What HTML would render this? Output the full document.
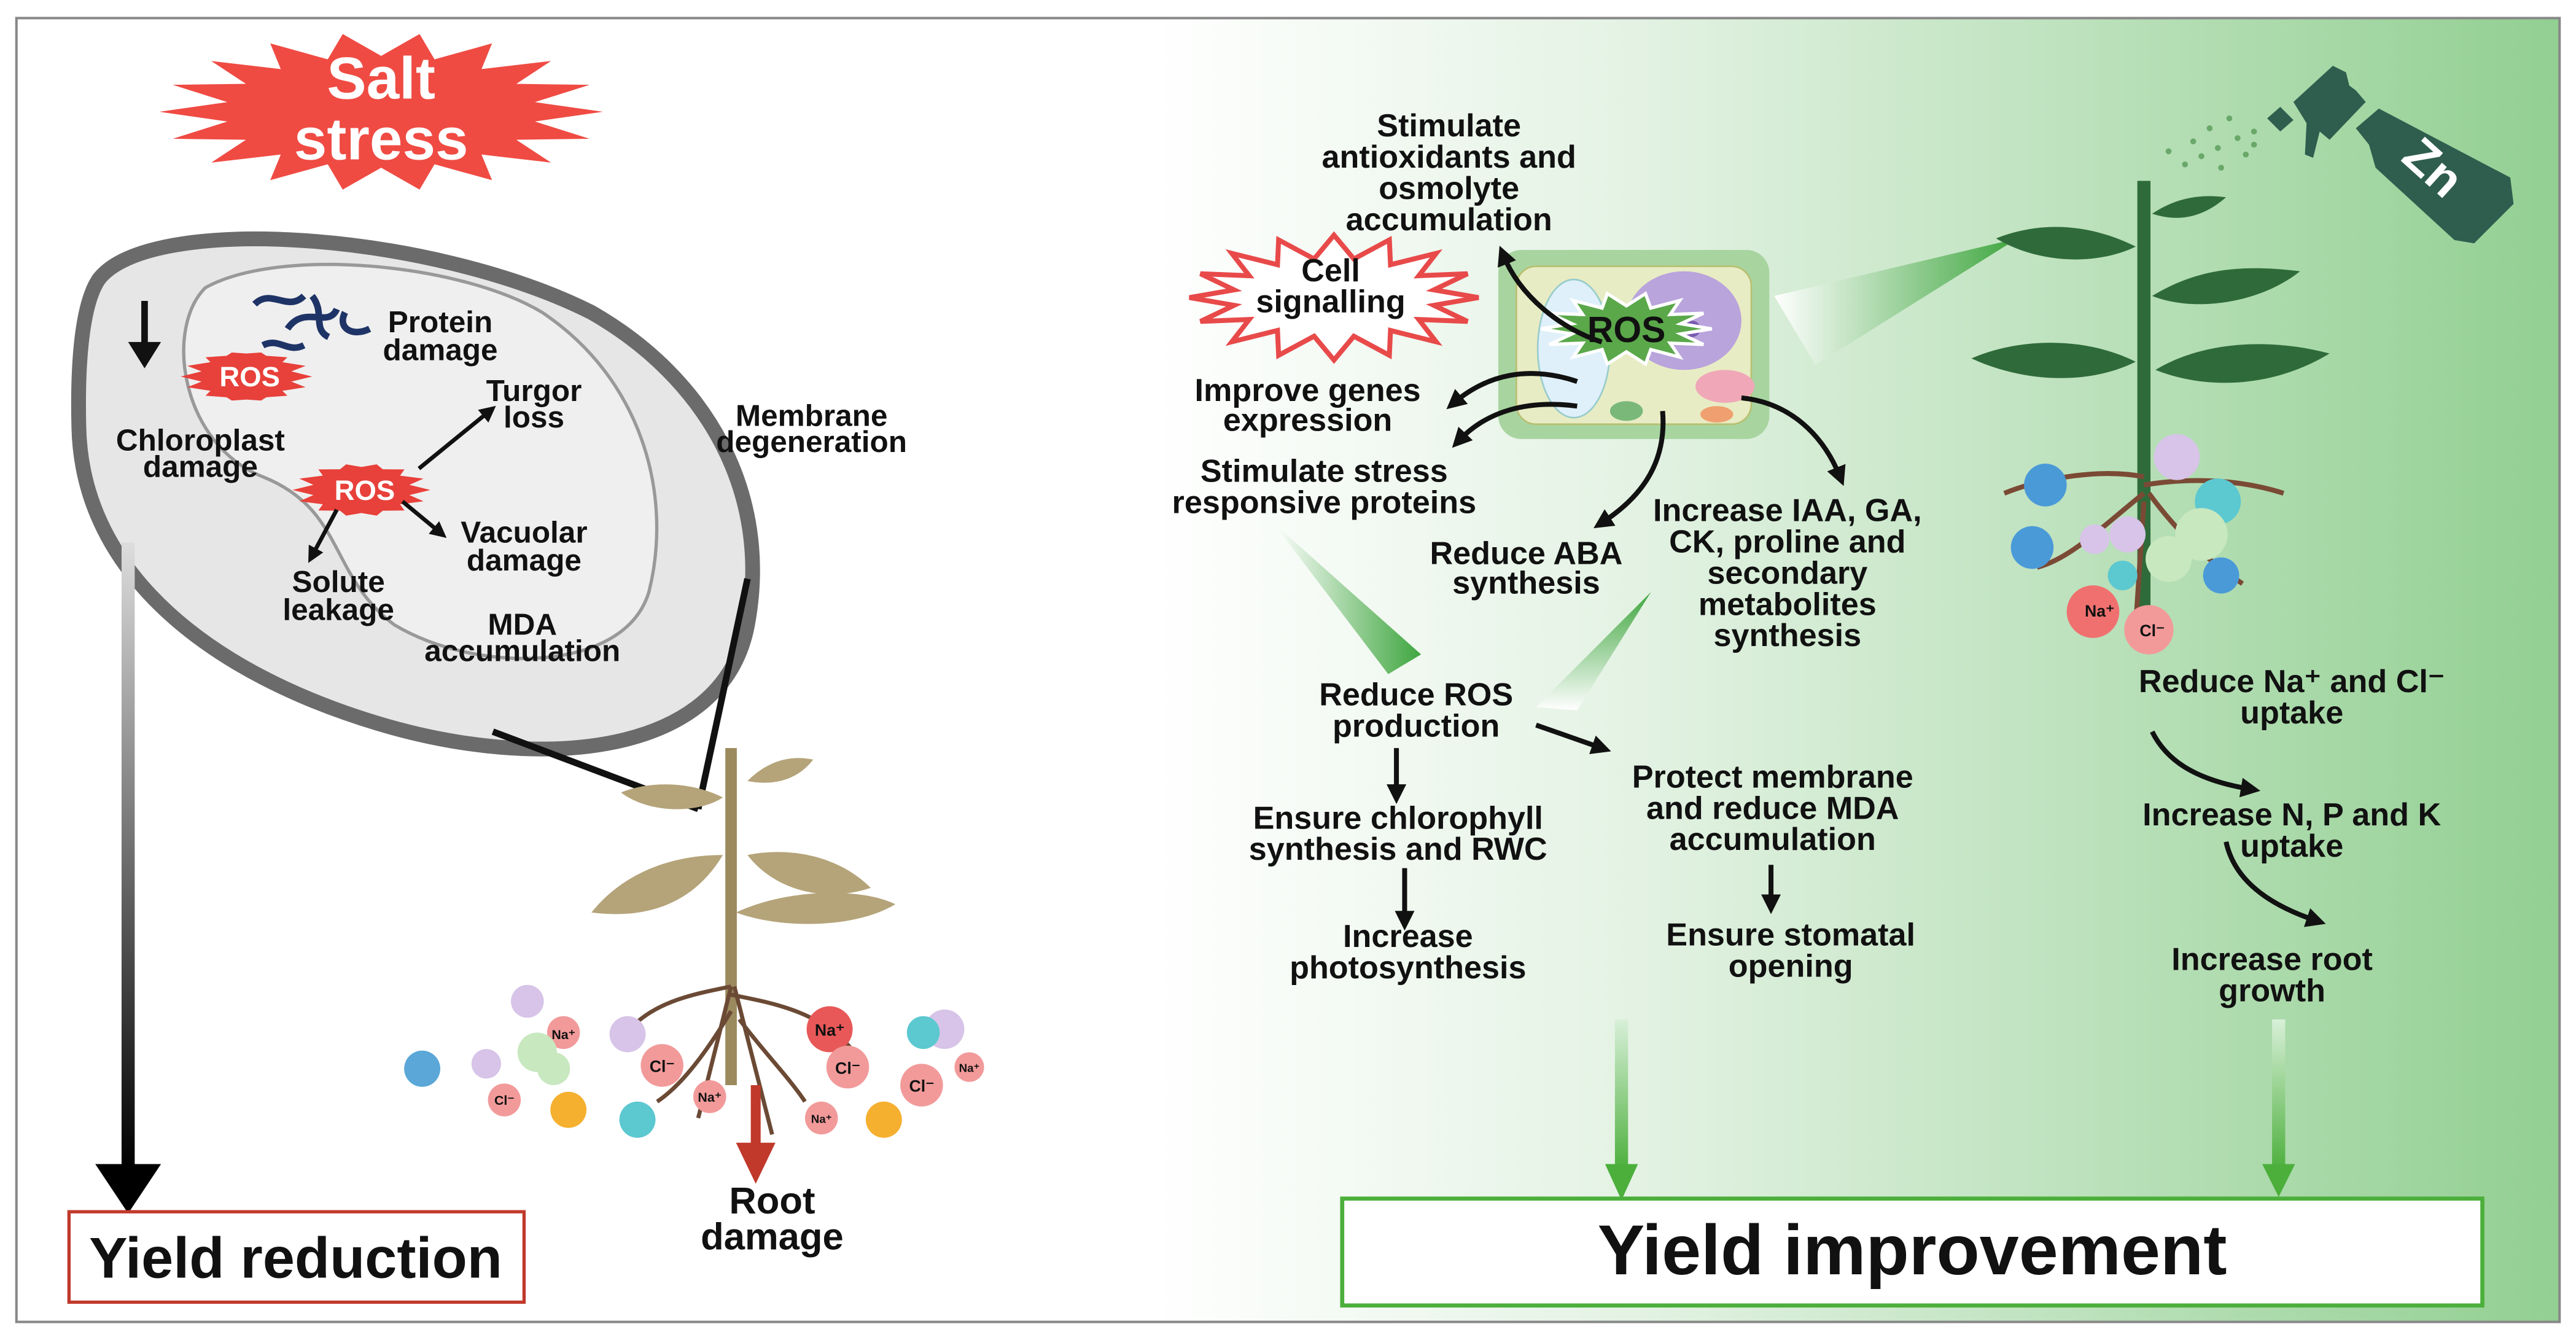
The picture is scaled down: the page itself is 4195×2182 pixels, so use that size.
<!DOCTYPE html>
<html><head><meta charset="utf-8"><style>
html,body{margin:0;padding:0;background:#fff}
svg{display:block}
text{font-family:"Liberation Sans",sans-serif;font-weight:bold;fill:#111}
</style></head><body>
<svg id="s" width="4195" height="2182" viewBox="0 0 1568 815" preserveAspectRatio="none" xmlns="http://www.w3.org/2000/svg">
<defs>
<linearGradient id="bg" x1="0" x2="1" y1="0" y2="0">
<stop offset="0" stop-color="#ffffff"/><stop offset="0.35" stop-color="#e3f2e3"/><stop offset="1" stop-color="#92cf92"/></linearGradient>
<linearGradient id="la" x1="0" x2="0" y1="0" y2="1"><stop offset="0" stop-color="#ddd"/><stop offset="1" stop-color="#000"/></linearGradient>
<linearGradient id="ga" x1="0" x2="0" y1="0" y2="1"><stop offset="0" stop-color="#d8f0d8"/><stop offset="1" stop-color="#4caf3c"/></linearGradient>
<linearGradient id="tri" x1="0" x2="1" y1="0" y2="0"><stop offset="0" stop-color="#fff"/><stop offset="1" stop-color="#3fa63f"/></linearGradient>
<linearGradient id="tri2" x1="0" x2="0" y1="1" y2="0"><stop offset="0" stop-color="#fff"/><stop offset="1" stop-color="#3fa63f"/></linearGradient>
<marker id="ah" viewBox="0 0 10 10" refX="5" refY="5" markerWidth="4" markerHeight="4" orient="auto"><path d="M0,0L10,5L0,10z" fill="#111"/></marker>
</defs>
<rect x="0" y="0" width="1568" height="815" fill="#fff"/>
<rect x="700" y="11" width="858" height="793" fill="url(#bg)"/>
<rect x="10" y="11" width="1548" height="793" fill="none" stroke="#888" stroke-width="1.5"/>

<!-- Left cell -->
<path d="M60,170 C90,130 260,140 360,190 C430,230 470,300 455,380 C440,460 330,470 230,440 C130,410 50,350 48,260 C47,220 50,185 60,170z" fill="#e6e6e6" stroke="#6b6b6b" stroke-width="9"/>
<path d="M125,175 C170,150 280,160 330,190 C390,230 410,300 395,360 C380,410 290,410 240,380 C200,350 210,310 160,290 C110,270 100,200 125,175z" fill="#efefef" stroke="#999" stroke-width="2"/>
<line x1="300" y1="445" x2="425" y2="492" stroke="#111" stroke-width="4"/>
<line x1="455" y1="352" x2="425" y2="492" stroke="#111" stroke-width="4"/>
<path d="M155,185c10,-10 20,5 30,-5M175,200c10,-15 25,0 30,-12M190,180c8,10 0,20 10,25M210,190c-5,10 5,15 15,10M160,210c10,-5 15,5 25,0" stroke="#1f3466" stroke-width="4" fill="none"/>
<g font-size="18.5" text-anchor="middle">
<text x="268" y="202">Protein</text><text x="268" y="219">damage</text>
<text x="325" y="244">Turgor</text><text x="325" y="260">loss</text>
<text x="122" y="274">Chloroplast</text><text x="122" y="290">damage</text>
<text x="494" y="259">Membrane</text><text x="494" y="275">degeneration</text>
<text x="319" y="330">Vacuolar</text><text x="319" y="347">damage</text>
<text x="206" y="360">Solute</text><text x="206" y="377">leakage</text>
<text x="318" y="386">MDA</text><text x="318" y="402">accumulation</text>
</g>
<path d="M88,183V212" stroke="#111" stroke-width="4"/><path d="M78,208L88,224L98,208z" fill="#111"/>
<polygon class="star" data-c="150,229,40,15,28,14" fill="#e8403a"/>
<text x="152" y="235" font-size="17" text-anchor="middle" style="fill:#fff">ROS</text>
<polygon class="star" data-c="220,298,42,16,30,14" fill="#e8403a"/>
<text x="222" y="304" font-size="17" text-anchor="middle" style="fill:#fff">ROS</text>
<line x1="255" y1="285" x2="298" y2="250" stroke="#111" stroke-width="2.5" marker-end="url(#ah)"/>
<line x1="245" y1="305" x2="268" y2="324" stroke="#111" stroke-width="2.5" marker-end="url(#ah)"/>
<line x1="205" y1="310" x2="190" y2="338" stroke="#111" stroke-width="2.5" marker-end="url(#ah)"/>

<!-- Salt stress -->
<polygon class="star" data-c="232,68,135,48,95,34,18" fill="#ef4b43"/>
<text x="232" y="60" font-size="36" text-anchor="middle" style="fill:#fff">Salt</text>
<text x="232" y="97" font-size="36" text-anchor="middle" style="fill:#fff">stress</text>

<!-- left long arrow -->
<rect x="74" y="330" width="8" height="380" fill="url(#la)"/>
<path d="M58,708L78,738L98,708z" fill="#000"/>
<rect x="42" y="737" width="277" height="55" fill="#fff" stroke="#c0392b" stroke-width="2"/>
<text x="180" y="777" font-size="35" text-anchor="middle">Yield reduction</text>

<!-- left plant -->
<path d="M445,455V660" stroke="#9b8a5e" stroke-width="7"/>
<path d="M440,520C410,520 380,530 360,555C400,560 425,545 440,520z" fill="#b5a47a"/>
<path d="M455,520C480,515 510,520 530,540C500,550 470,540 455,520z" fill="#b5a47a"/>
<path d="M448,555C480,540 525,540 545,550C520,565 475,565 448,555z" fill="#b5a47a"/>
<path d="M440,485C420,475 395,475 378,482C395,495 425,495 440,485z" fill="#b5a47a"/>
<path d="M455,475C470,460 485,460 495,462C485,475 470,478 455,475z" fill="#b5a47a"/>
<path d="M445,600C420,605 395,610 380,630M445,605C470,610 500,615 520,640M445,615C430,640 415,660 400,670M450,620C465,640 480,655 490,670M445,600L425,680M447,600L470,690" stroke="#6b4a35" stroke-width="2.5" fill="none"/>
<rect x="457" y="660" width="6" height="40" fill="#c0392b"/><path d="M448,695L460,720L472,695z" fill="#c0392b"/>
<text x="470" y="738" font-size="23" text-anchor="middle">Root</text><text x="470" y="760" font-size="23" text-anchor="middle">damage</text>
<g>
<circle cx="321" cy="609" r="10" fill="#d7c4e8"/><circle cx="343" cy="628" r="10" fill="#f29a9a"/><circle cx="382" cy="629" r="11" fill="#d7c4e8"/>
<circle cx="257" cy="650" r="11" fill="#5aa7d8"/><circle cx="296" cy="647" r="9" fill="#d7c4e8"/><circle cx="327" cy="640" r="12" fill="#c8e8c0"/><circle cx="337" cy="650" r="10" fill="#c8e8c0"/>
<circle cx="403" cy="648" r="13" fill="#f29a9a"/><circle cx="307" cy="669" r="10" fill="#f29a9a"/><circle cx="346" cy="675" r="11" fill="#f5b030"/>
<circle cx="388" cy="681" r="11" fill="#5cc8d0"/><circle cx="432" cy="667" r="10" fill="#f29a9a"/><circle cx="505" cy="626" r="14" fill="#e85858"/><circle cx="516" cy="649" r="13" fill="#f29a9a"/>
<circle cx="561" cy="660" r="13" fill="#f29a9a"/><circle cx="590" cy="649" r="9" fill="#f29a9a"/><circle cx="575" cy="626" r="12" fill="#d7c4e8"/><circle cx="562" cy="628" r="10" fill="#5cc8d0"/>
<circle cx="500" cy="680" r="10" fill="#f29a9a"/><circle cx="538" cy="681" r="11" fill="#f5b030"/>
<text x="343" y="632" font-size="8" text-anchor="middle">Na⁺</text><text x="403" y="652" font-size="10" text-anchor="middle">Cl⁻</text><text x="505" y="630" font-size="10" text-anchor="middle">Na⁺</text><text x="516" y="653" font-size="10" text-anchor="middle">Cl⁻</text><text x="561" y="664" font-size="10" text-anchor="middle">Cl⁻</text><text x="307" y="672" font-size="8" text-anchor="middle">Cl⁻</text><text x="432" y="670" font-size="8" text-anchor="middle">Na⁺</text><text x="590" y="652" font-size="7" text-anchor="middle">Na⁺</text><text x="500" y="683" font-size="7" text-anchor="middle">Na⁺</text>
</g>

<!-- Right: plant cell -->
<rect x="912" y="152" width="165" height="115" rx="14" fill="#a8d4a0"/>
<rect x="923" y="162" width="143" height="96" rx="12" fill="#e8ecc4" stroke="#b8c070"/>
<ellipse cx="958" cy="212" rx="22" ry="42" fill="#dff0fa" stroke="#9cc"/>
<ellipse cx="1025" cy="195" rx="35" ry="30" fill="#b9a4dc"/>
<circle cx="1030" cy="200" r="5" fill="#7a5cb0"/>
<ellipse cx="1050" cy="235" rx="18" ry="10" fill="#f0a8b8"/>
<ellipse cx="990" cy="250" rx="10" ry="6" fill="#7ab87a"/>
<ellipse cx="1045" cy="252" rx="10" ry="5" fill="#f0a070"/>
<polygon class="star" data-c="990,200,52,22,34,14" fill="#5aa84a" stroke="#fff" stroke-width="2"/>
<text x="990" y="208" font-size="22" text-anchor="middle">ROS</text>
<polygon class="star" data-c="812,181,88,38,62,24,16" fill="#fff" stroke="#e84a4a" stroke-width="3"/>
<text x="810" y="171" font-size="19.5" text-anchor="middle">Cell</text><text x="810" y="190" font-size="19.5" text-anchor="middle">signalling</text>

<g stroke="#111" stroke-width="3" fill="none" marker-end="url(#ah)">
<path d="M975,208C950,200 925,180 915,155"/>
<path d="M960,232C930,222 905,228 885,245"/>
<path d="M960,247C930,243 905,250 888,268"/>
<path d="M1012,250C1015,285 995,305 975,318"/>
<path d="M1060,242C1090,245 1110,265 1120,290"/>
<path d="M850,455V483"/>
<path d="M855,528V560"/>
<path d="M935,441L975,455"/>
<path d="M1078,526V550"/>
<path d="M1310,445C1320,465 1340,475 1370,480"/>
<path d="M1355,512C1360,535 1380,550 1410,560"/>
</g>
<polygon points="775,318 865,398 845,410" fill="url(#tri)"/>
<polygon points="1005,360 935,430 960,432" fill="url(#tri2)"/>
<polygon points="1228,145 1080,180 1105,222" fill="url(#tri)"/>

<g font-size="19.5" text-anchor="middle">
<text x="882" y="83">Stimulate</text><text x="882" y="102">antioxidants and</text><text x="882" y="121">osmolyte</text><text x="882" y="140">accumulation</text>
<text x="796" y="244">Improve genes</text><text x="796" y="262">expression</text>
<text x="806" y="293">Stimulate stress</text><text x="806" y="312">responsive proteins</text>
<text x="929" y="343">Reduce ABA</text><text x="929" y="361">synthesis</text>
<text x="1088" y="317">Increase IAA, GA,</text><text x="1088" y="336">CK, proline and</text><text x="1088" y="355">secondary</text><text x="1088" y="374">metabolites</text><text x="1088" y="393">synthesis</text>
<text x="862" y="429">Reduce ROS</text><text x="862" y="448">production</text>
<text x="1079" y="479">Protect membrane</text><text x="1079" y="498">and reduce MDA</text><text x="1079" y="517">accumulation</text>
<text x="851" y="504">Ensure chlorophyll</text><text x="851" y="523">synthesis and RWC</text>
<text x="857" y="576">Increase</text><text x="857" y="595">photosynthesis</text>
<text x="1090" y="575">Ensure stomatal</text><text x="1090" y="594">opening</text>
<text x="1395" y="421">Reduce Na⁺ and Cl⁻</text><text x="1395" y="440">uptake</text>
<text x="1395" y="502">Increase N, P and K</text><text x="1395" y="521">uptake</text>
<text x="1383" y="590">Increase root</text><text x="1383" y="609">growth</text>
</g>

<!-- right plant -->
<path d="M1305,110V390" stroke="#2f6b3a" stroke-width="8"/>
<path d="M1300,150C1270,135 1240,135 1215,145C1240,160 1275,162 1300,150z" fill="#2f6b3a"/>
<path d="M1310,180C1335,165 1360,160 1400,165C1375,185 1335,190 1310,180z" fill="#2f6b3a"/>
<path d="M1300,220C1270,205 1230,205 1200,218C1230,232 1270,235 1300,220z" fill="#2f6b3a"/>
<path d="M1312,225C1340,208 1380,205 1418,215C1385,235 1345,238 1312,225z" fill="#2f6b3a"/>
<path d="M1310,130C1325,120 1340,118 1355,120C1340,133 1325,135 1310,130z" fill="#2f6b3a"/>
<path d="M1305,290C1280,285 1245,290 1220,300M1305,295C1335,290 1365,292 1390,300M1305,300C1280,320 1260,340 1240,345M1305,305L1300,380M1308,300C1330,330 1350,345 1365,355" stroke="#7a4a35" stroke-width="3" fill="none"/>
<g>
<circle cx="1245" cy="295" r="13" fill="#4a9ad8"/><circle cx="1325" cy="278" r="14" fill="#d7c4e8"/><circle cx="1350" cy="305" r="14" fill="#5cc8d0"/>
<circle cx="1237" cy="333" r="13" fill="#4a9ad8"/><circle cx="1275" cy="328" r="9" fill="#d7c4e8"/><circle cx="1295" cy="325" r="11" fill="#d7c4e8"/>
<circle cx="1340" cy="325" r="16" fill="#c8e8c0"/><circle cx="1320" cy="340" r="14" fill="#c8e8c0"/><circle cx="1352" cy="350" r="11" fill="#4a9ad8"/>
<circle cx="1292" cy="350" r="9" fill="#5cc8d0"/><circle cx="1274" cy="372" r="16" fill="#f07070"/><circle cx="1308" cy="383" r="15" fill="#f29a9a"/>
<text x="1278" y="375" font-size="10" text-anchor="middle">Na⁺</text><text x="1310" y="387" font-size="10" text-anchor="middle">Cl⁻</text>
</g>
<!-- spray bottle -->
<path d="M1396,62L1420,40L1428,44L1430,52L1434,55L1440,62L1418,85L1412,80L1408,96L1403,94L1404,75z" fill="#2f5e4e"/>
<path d="M1380,72L1388,65L1396,73L1388,80z" fill="#2f5e4e"/>
<path d="M1434,78L1448,66L1528,108L1530,124L1506,148L1494,146L1446,102L1442,88z" fill="#2f5e4e"/>
<text x="1481" y="112" font-size="30" text-anchor="middle" transform="rotate(42 1481 102)" style="fill:#fff">Zn</text>
<g fill="#6aa86a"><circle cx="1372" cy="80" r="1.8"/><circle cx="1362" cy="84" r="1.8"/><circle cx="1350" cy="90" r="1.8"/><circle cx="1340" cy="95" r="1.8"/><circle cx="1330" cy="100" r="1.8"/><circle cx="1357" cy="72" r="1.8"/><circle cx="1345" cy="78" r="1.8"/><circle cx="1335" cy="86" r="1.8"/><circle cx="1320" cy="92" r="1.8"/><circle cx="1367" cy="94" r="1.8"/><circle cx="1352" cy="102" r="1.8"/><circle cx="1372" cy="88" r="1.8"/></g>

<!-- green arrows & box -->
<rect x="983" y="620" width="8" height="92" fill="url(#ga)"/><path d="M977,708L987,730L997,708z" fill="#4caf3c"/>
<rect x="1383" y="620" width="8" height="92" fill="url(#ga)"/><path d="M1377,708L1387,728L1397,708z" fill="#4caf3c"/>
<rect x="817" y="729" width="694" height="65" fill="#fff" stroke="#4caf3c" stroke-width="2.5"/>
<text x="1164" y="775" font-size="43" text-anchor="middle">Yield improvement</text>
</svg>
<script>
document.querySelectorAll('polygon.star').forEach(function(p){
 var a=p.getAttribute('data-c').split(',').map(Number);
 var cx=a[0],cy=a[1],rx=a[2],ry=a[3],ix=a[4],iy=a[5],n=a[6]||14,pts=[];
 for(var i=0;i<2*n;i++){var t=Math.PI*i/n;var o=i%2==0;pts.push((cx+(o?rx:ix)*Math.cos(t)).toFixed(1)+','+(cy+(o?ry:iy)*Math.sin(t)).toFixed(1));}
 p.setAttribute('points',pts.join(' '));
});
</script>
</body></html>
